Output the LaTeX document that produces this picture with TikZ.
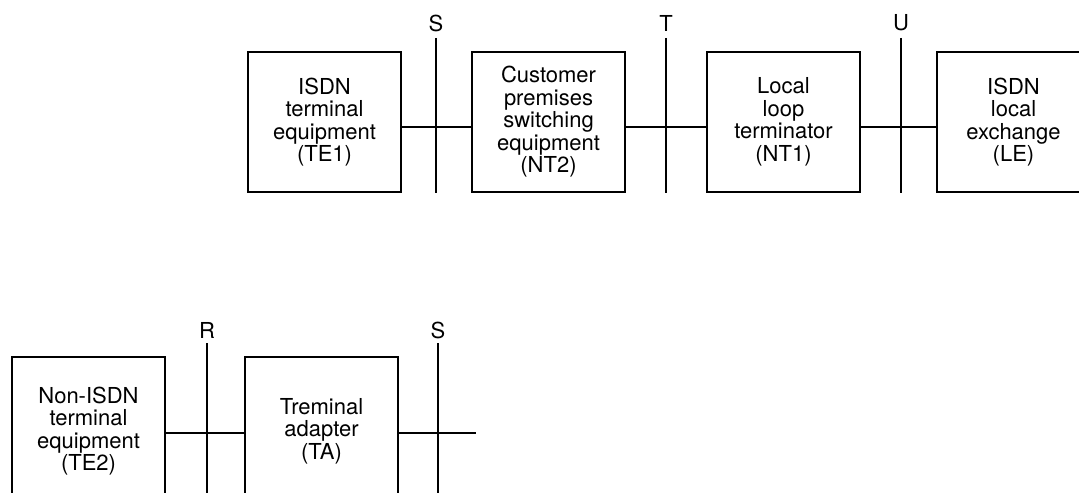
\documentclass[tikz,border=0pt]{standalone}
\usepackage{fontspec}
\setmainfont{TeX Gyre Heros}
\begin{document}
\begin{tikzpicture}[x=0.5pt,y=-0.5pt,
  line width=1pt,
  unit/.style={draw, line width=1pt, minimum width=76.5pt, inner sep=0pt,
    align=center, font=\fontsize{11pt}{11.25pt}\selectfont},
  toprow/.style={unit, minimum height=70pt},
  lowrow/.style={unit, minimum height=74pt},
  reflabel/.style={inner sep=0pt, font=\fontsize{11pt}{11.25pt}\selectfont},
  refline/.style={line width=1pt}]
\useasboundingbox (0,0) rectangle (1079,492);
\clip (0,0) rectangle (1079,492);

% ISDN chain: TE1 -- S -- NT2 -- T -- NT1 -- U -- LE
\node[toprow] (te1) at (324.5,122) {ISDN\\terminal\\equipment\\(TE1)};
\node[toprow] (nt2) at (548.5,122) {Customer\\premises\\switching\\equipment\\(NT2)};
\node[toprow] (nt1) at (783.5,122) {Local\\loop\\terminator\\(NT1)};
\node[toprow] (le)  at (1013.5,122) {ISDN\\local\\exchange\\(LE)};

% reference points S, T, U
\coordinate (sx) at (436,127);
\coordinate (tx) at (666,127);
\coordinate (ux) at (901,127);
\coordinate (stop) at (436,38);   \coordinate (sbot) at (436,193);
\coordinate (ttop) at (666,38);   \coordinate (tbot) at (666,193);
\coordinate (utop) at (901,38);   \coordinate (ubot) at (901,193);
\draw[refline] (stop) -- (sbot);
\draw[refline] (ttop) -- (tbot);
\draw[refline] (utop) -- (ubot);
\node[reflabel] (slab) at (436,23) {S};
\node[reflabel] (tlab) at (666,23) {T};
\node[reflabel] (ulab) at (901,23) {U};

\draw (te1.east |- sx) -- (nt2.west |- sx);
\draw (nt2.east |- tx) -- (nt1.west |- tx);
\draw (nt1.east |- ux) -- (le.west |- ux);

% non-ISDN chain: TE2 -- R -- TA -- S
\node[lowrow] (te2) at (88.5,431) {Non-ISDN\\terminal\\equipment\\(TE2)};
\node[lowrow] (ta)  at (321.5,431) {Treminal\\adapter\\(TA)};

\coordinate (rx) at (207,433);
\coordinate (s2x) at (438,433);
\coordinate (rtop) at (207,343);  \coordinate (rbot) at (207,500);
\coordinate (s2top) at (438,343); \coordinate (s2bot) at (438,500);
\coordinate (tail) at (476,433);
\draw[refline] (rtop) -- (rbot);
\draw[refline] (s2top) -- (s2bot);
\node[reflabel] (rlab) at (207,330) {R};
\node[reflabel] (s2lab) at (438,330) {S};

\draw (te2.east |- rx) -- (ta.west |- rx);
\draw (ta.east |- s2x) -- (tail);
\end{tikzpicture}
\end{document}
